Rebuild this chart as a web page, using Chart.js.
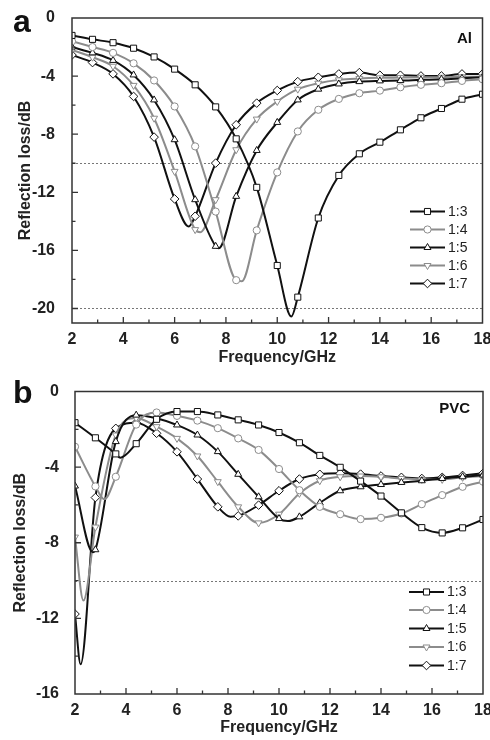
<!DOCTYPE html>
<html lang="en">
<head>
<meta charset="UTF-8">
<title>Reflection loss - Al / PVC</title>
<script src="https://cdn.jsdelivr.net/npm/chart.js"></script>
<style>
  body { margin: 0; background: #fff; }
  canvas { display: block; }
</style>
</head>
<body>
<canvas id="chartA" width="490" height="370"></canvas>
<canvas id="chartB" width="490" height="370"></canvas>
<script>
// marker frequencies (GHz), shared by every curve
const freq = [2, 2.8, 3.6, 4.4, 5.2, 6, 6.8, 7.6, 8.4, 9.2, 10, 10.8, 11.6, 12.4, 13.2, 14, 14.8, 15.6, 16.4, 17.2, 18];
const ratios = ["1:3", "1:4", "1:5", "1:6", "1:7"];
const xTicks = [2, 4, 6, 8, 10, 12, 14, 16, 18];

// panel a, Al: reflection loss (dB) at each marker
const al13 = [-1.2, -1.47, -1.7, -2.08, -2.68, -3.52, -4.6, -6.12, -8.32, -11.66, -17.04, -19.22, -13.77, -10.84, -9.35, -8.55, -7.7, -6.87, -6.23, -5.59, -5.25];
const al14 = [-1.6, -2.0, -2.4, -3.12, -4.3, -6.09, -8.84, -13.33, -18.05, -14.62, -10.63, -7.81, -6.32, -5.57, -5.18, -5.0, -4.77, -4.6, -4.49, -4.33, -4.22];
const al15 = [-2.0, -2.4, -2.92, -3.92, -5.64, -8.38, -12.51, -15.72, -12.28, -9.12, -7.19, -5.64, -4.9, -4.54, -4.38, -4.33, -4.31, -4.26, -4.22, -4.15, -4.08];
const al16 = [-2.2, -2.7, -3.32, -4.64, -6.9, -10.56, -14.57, -12.51, -9.07, -6.96, -5.75, -4.9, -4.49, -4.26, -4.17, -4.12, -4.1, -4.08, -4.08, -4.05, -4.05];
const al17 = [-2.55, -3.07, -3.85, -5.4, -8.2, -12.46, -13.65, -9.99, -7.35, -5.86, -4.99, -4.38, -4.08, -3.85, -3.76, -3.94, -3.94, -3.99, -3.99, -3.85, -3.85];
// dips that fall between two markers: [freq, RL]
const alDip13 = [[10.55, -20.55]];
const alDip14 = [[8.62, -18.12]];
const alDip15 = [[7.72, -15.85]];
const alDip16 = [[7.0, -14.75]];
const alDip17 = [[6.55, -14.35]];
const alTicks = [0, -4, -8, -12, -16, -20];

// panel b, PVC
const pvc13 = [-1.65, -2.45, -3.3, -2.76, -1.47, -1.06, -1.06, -1.24, -1.5, -1.77, -2.17, -2.71, -3.38, -4.01, -4.74, -5.53, -6.42, -7.2, -7.48, -7.21, -6.77];
const pvc14 = [-2.92, -5.02, -4.51, -1.75, -1.11, -1.29, -1.54, -1.94, -2.48, -3.09, -4.1, -5.22, -6.1, -6.49, -6.75, -6.68, -6.45, -5.96, -5.48, -5.04, -4.77];
const pvc15 = [-5.0, -8.37, -2.65, -1.25, -1.41, -1.77, -2.3, -3.18, -4.38, -5.57, -6.72, -6.63, -5.89, -5.25, -5.04, -4.92, -4.81, -4.72, -4.6, -4.51, -4.42];
const pvc16 = [-7.7, -7.17, -2.3, -1.4, -1.86, -2.48, -3.41, -4.77, -6.1, -6.95, -6.49, -5.39, -4.72, -4.51, -4.47, -4.51, -4.6, -4.65, -4.65, -4.54, -4.47];
const pvc17 = [-11.77, -5.61, -1.95, -1.65, -2.21, -3.19, -4.63, -6.1, -6.58, -6.01, -5.25, -4.63, -4.38, -4.33, -4.37, -4.47, -4.54, -4.6, -4.54, -4.44, -4.33];
const pvcDip13 = [[3.78, -3.5]];
const pvcDip14 = [[3.15, -5.7]];
const pvcDip15 = [[2.7, -8.5], [10.35, -6.85]];
const pvcDip16 = [[2.33, -11.06]];
const pvcDip17 = [[2.22, -14.43], [8.1, -6.62]];
const pvcTicks = [0, -4, -8, -12, -16];

const FONT = "'Liberation Sans', Arial, sans-serif";
const colors = ["#111", "#8c8c8c", "#111", "#8c8c8c", "#111"];
const shapes = ["rect", "circle", "triangle", "triangle", "rectRot"];
const rotations = [0, 0, 0, 180, 0];
const radii = [4.3, 3.6, 4, 4, 4.3];

function buildPoints(vals, dips) {
  const pts = freq.map((f, i) => ({ x: f, y: vals[i], m: true }));
  dips.forEach(d => pts.push({ x: d[0], y: d[1], m: false }));
  return pts.sort((a, b) => a.x - b.x);
}

function drawMark(ctx, i, x, y) {
  const r = radii[i];
  ctx.save();
  ctx.translate(x, y);
  ctx.rotate(rotations[i] * Math.PI / 180);
  ctx.beginPath();
  if (shapes[i] === "rect") {
    const s = r * Math.SQRT1_2;
    ctx.rect(-s, -s, 2 * s, 2 * s);
  } else if (shapes[i] === "circle") {
    ctx.arc(0, 0, r, 0, Math.PI * 2);
  } else if (shapes[i] === "triangle") {
    ctx.moveTo(0, -r);
    ctx.lineTo(r * 0.866, r * 0.5);
    ctx.lineTo(-r * 0.866, r * 0.5);
    ctx.closePath();
  } else {
    ctx.moveTo(0, -r); ctx.lineTo(r, 0); ctx.lineTo(0, r); ctx.lineTo(-r, 0);
    ctx.closePath();
  }
  ctx.fillStyle = "#fff";
  ctx.fill();
  ctx.lineWidth = 1;
  ctx.strokeStyle = colors[i];
  ctx.stroke();
  ctx.restore();
}

// frame, inward ticks, dotted reference lines, legend and labels
const decor = {
  id: "decor",
  beforeDatasetsDraw(chart, args, o) {
    const { ctx, chartArea: a } = chart;
    const y = chart.scales.y;
    ctx.save();
    ctx.strokeStyle = "#777";
    ctx.lineWidth = 1;
    ctx.setLineDash([2, 2]);
    o.refLines.forEach(v => {
      const py = Math.round(y.getPixelForValue(v)) + 0.5;
      ctx.beginPath();
      ctx.moveTo(a.left, py);
      ctx.lineTo(a.right, py);
      ctx.stroke();
    });
    ctx.restore();
  },
  afterDraw(chart, args, o) {
    const { ctx, chartArea: a } = chart;
    const x = chart.scales.x, y = chart.scales.y;
    ctx.save();
    ctx.strokeStyle = "#333";
    ctx.lineWidth = 1.5;
    ctx.strokeRect(a.left, a.top, a.right - a.left, a.bottom - a.top);

    ctx.lineWidth = 1.3;
    ctx.beginPath();
    for (let f = 3; f < 18; f++) {
      const px = x.getPixelForValue(f);
      const len = f % 2 === 0 ? 6 : 3.5;
      ctx.moveTo(px, a.bottom);
      ctx.lineTo(px, a.bottom - len);
    }
    for (let v = y.min + 1; v < 0; v += 1) {
      if (Math.abs(v) % 2 !== 0) continue;
      const py = y.getPixelForValue(v);
      const len = Math.abs(v) % 4 === 0 ? 6 : 3.5;
      ctx.moveTo(a.left, py);
      ctx.lineTo(a.left + len, py);
    }
    ctx.stroke();

    // legend
    ctx.font = "14px " + FONT;
    ctx.textBaseline = "middle";
    ctx.textAlign = "left";
    chart.data.datasets.forEach((ds, i) => {
      const ly = o.legendY[i];
      ctx.strokeStyle = colors[i];
      ctx.lineWidth = 2;
      ctx.beginPath();
      ctx.moveTo(o.legendX, ly);
      ctx.lineTo(o.legendX + 35, ly);
      ctx.stroke();
      drawMark(ctx, i, o.legendX + 17.5, ly);
      ctx.fillStyle = "#222";
      ctx.fillText(ds.label, o.legendX + 38, ly + 0.5);
    });

    // panel letter and material
    ctx.fillStyle = "#111";
    ctx.textBaseline = "alphabetic";
    ctx.font = "bold 32px " + FONT;
    ctx.fillText(o.letter, 13, o.letterY);
    ctx.font = "bold 15px " + FONT;
    ctx.textAlign = "right";
    ctx.fillText(o.material, o.materialX, 43);
    ctx.restore();
  }
};

function makeChart(id, series, dips, p) {
  const datasets = series.map((vals, i) => ({
    label: ratios[i],
    data: buildPoints(vals, dips[i]),
    borderColor: colors[i],
    borderWidth: 2,
    backgroundColor: "#fff",
    pointStyle: shapes[i],
    pointRotation: rotations[i],
    pointBorderWidth: 1,
    pointBackgroundColor: "#fff",
    pointBorderColor: colors[i],
    pointRadius: c => (c.raw && c.raw.m ? radii[i] : 0),
    pointHoverRadius: 0,
    cubicInterpolationMode: "monotone",
    clip: 0
  }));

  return new Chart(document.getElementById(id), {
    type: "line",
    data: { datasets },
    plugins: [decor],
    options: {
      responsive: false,
      animation: false,
      events: [],
      layout: { padding: { left: 0, top: p.top, right: p.right, bottom: 0 } },
      plugins: {
        legend: { display: false },
        tooltip: { enabled: false },
        decor: p.decor
      },
      scales: {
        x: {
          type: "linear",
          min: 2,
          max: 18,
          grid: { display: false },
          border: { display: false },
          afterBuildTicks: s => { s.ticks = xTicks.map(v => ({ value: v })); },
          ticks: { padding: p.xPad, color: "#222", font: { family: FONT, size: 16, weight: "bold" }, maxRotation: 0 },
          title: { display: true, text: "Frequency/GHz", color: "#222", padding: { top: 0, bottom: p.xTitlePad }, font: { family: FONT, size: 16, weight: "bold" } },
          afterFit: s => { s.height = p.xHeight; s.paddingLeft = 0; s.paddingRight = 0; }
        },
        y: {
          min: p.yMin,
          max: 0,
          grid: { display: false },
          border: { display: false },
          afterBuildTicks: s => { s.ticks = p.yTicks.map(v => ({ value: v })); },
          ticks: { padding: p.yPad, color: "#222", font: { family: FONT, size: 16, weight: "bold" } },
          title: { display: true, text: "Reflection loss/dB", color: "#222", padding: { top: p.yTitlePad, bottom: 0 }, font: { family: FONT, size: 16, weight: "bold" } },
          afterFit: s => { s.width = p.yWidth; s.paddingTop = 0; s.paddingBottom = 0; }
        }
      }
    }
  });
}

makeChart("chartA", [al13, al14, al15, al16, al17], [alDip13, alDip14, alDip15, alDip16, alDip17], {
  top: 18, right: 7.5, yWidth: 72, xHeight: 47, yMin: -21, yTicks: alTicks,
  xPad: -1, yPad: 9, xTitlePad: 3, yTitlePad: 16,
  decor: { refLines: [-10, -20], legendX: 410, legendY: [211.5, 229.5, 247.5, 265.5, 283.5], letter: "a", letterY: 32, material: "Al", materialX: 472 }
});

makeChart("chartB", [pvc13, pvc14, pvc15, pvc16, pvc17], [pvcDip13, pvcDip14, pvcDip15, pvcDip16, pvcDip17], {
  top: 21.5, right: 7, yWidth: 75, xHeight: 46, yMin: -16, yTicks: pvcTicks,
  xPad: -1, yPad: 8, xTitlePad: 3, yTitlePad: 11,
  decor: { refLines: [-10], legendX: 409, legendY: [222, 240, 258.5, 277, 295.5], letter: "b", letterY: 33, material: "PVC", materialX: 470 }
});
</script>
</body>
</html>
